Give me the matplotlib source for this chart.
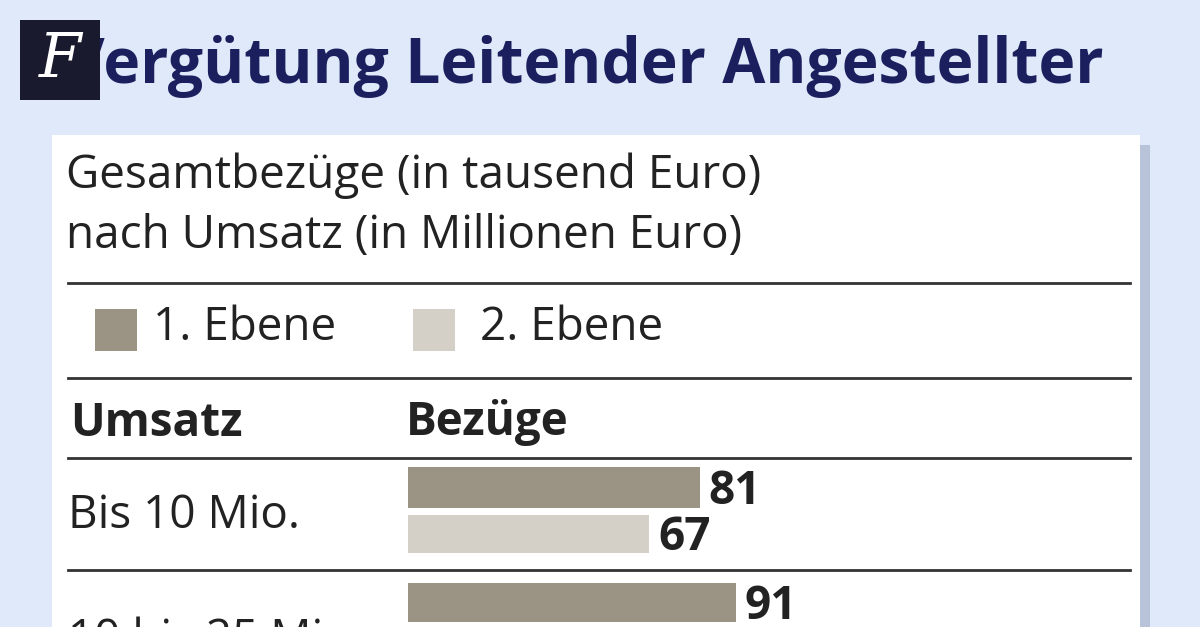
import matplotlib
matplotlib.use("Agg")
import matplotlib.pyplot as plt
from matplotlib.patches import Rectangle

categories = ["Bis 10 Mio.", "10 bis 25 Mio."]
ebene1 = [81, 91]
ebene2 = [67]
title = "Vergütung Leitender Angestellter"

W, H = 1200, 627
fig = plt.figure(figsize=(12, 6.27), dpi=100)
fig.patch.set_facecolor("#dfe9f9")
bg = fig.add_axes([0, 0, 1, 1])
bg.set_xlim(0, W); bg.set_ylim(H, 0); bg.axis("off")
F = "Open Sans"
navy = "#1c1f5e"
dark = "#9b9383"; light = "#d4cfc7"; ink = "#222222"

bg.text(64, 66, title, fontsize=45, fontweight="bold", color=navy, family=F, va="center", ha="left", zorder=2)
bg.add_patch(Rectangle((20, 20), 80, 80, facecolor="#1a1a2e", zorder=3))
bg.text(60, 60, "F", fontsize=44, color="white", family="DejaVu Serif", ha="center", va="center", zorder=4, fontstyle="italic")

bg.add_patch(Rectangle((1140, 145), 10, 490, facecolor="#b8c2d8", zorder=1))
bg.add_patch(Rectangle((52, 135), 1088, 500, facecolor="white", zorder=2))

fs = 33
kw = dict(family=F, color=ink, zorder=5, va="center")
bg.text(66, 176, "Gesamtbezüge (in tausend Euro)", fontsize=fs, **kw)
bg.text(66, 236, "nach Umsatz (in Millionen Euro)", fontsize=fs, **kw)
for y in (283, 378, 458, 570):
    bg.plot([68, 1130], [y, y], color="#333333", lw=2, zorder=5)
bg.add_patch(Rectangle((95, 309), 42, 42, facecolor=dark, zorder=5))
bg.add_patch(Rectangle((413, 309), 42, 42, facecolor=light, zorder=5))
bg.text(153, 328, "1. Ebene", fontsize=fs, **kw)
bg.text(480, 328, "2. Ebene", fontsize=fs, **kw)
bg.text(70, 423, "Umsatz", fontsize=fs, fontweight="bold", **kw)
bg.text(406, 423, "Bezüge", fontsize=fs, fontweight="bold", **kw)
bg.text(68, 516, categories[0], fontsize=fs, **kw)
bg.text(68, 640, categories[1], fontsize=fs, **kw)

# bar axes: x from 408 px to 1130 px, scale 3.6 px per unit
x0, x1, y0, y1 = 408, 1130, 458, 627
ax = fig.add_axes([x0 / W, 1 - y1 / H, (x1 - x0) / W, (y1 - y0) / H])
ax.set_xlim(0, (x1 - x0) / 3.6); ax.set_ylim(y1, y0); ax.axis("off"); ax.set_zorder(6)
ax.patch.set_alpha(0)
pos1 = [487.5, 602.5]; h1 = [41, 39]
pos2 = [534]; h2 = [38]
ax.barh(pos1, ebene1, height=h1, color=dark)
ax.barh(pos2, ebene2, height=h2, color=light)
for p, v in zip(pos1, ebene1):
    ax.text(v + 2.5, p + 4, str(v), fontsize=fs, fontweight="bold", family=F, color=ink, va="center")
for p, v in zip(pos2, ebene2):
    ax.text(v + 2.5, p + 4, str(v), fontsize=fs, fontweight="bold", family=F, color=ink, va="center")

fig.savefig("out.png", dpi=100, facecolor=fig.get_facecolor())
